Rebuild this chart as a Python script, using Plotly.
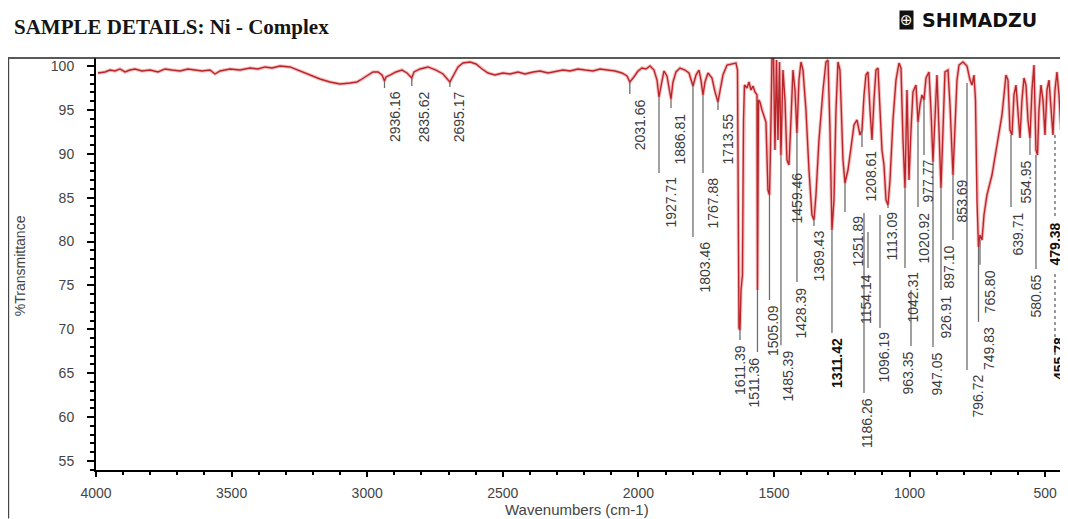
import plotly.graph_objects as go

# ---------------- spectrum ----------------
wavenumber = [3992.6, 3966.8, 3948.4, 3929.9, 3911.5, 3893.1, 3874.6, 3856.2, 3830.4, 3800.9,
              3771.4, 3745.6, 3719.8, 3690.3, 3660.8, 3634.8, 3609.1, 3579.7, 3561.2, 3542.8,
              3505.9, 3469.0, 3432.2, 3402.7, 3376.9, 3351.0, 3321.5, 3284.7, 3255.2, 3229.4,
              3203.5, 3174.0, 3137.2, 3100.3, 3063.4, 3037.6, 3019.2, 2997.1, 2978.6, 2960.2,
              2945.4, 2936.2, 2930.7, 2915.9, 2893.8, 2871.7, 2853.2, 2835.6, 2827.4, 2805.3,
              2775.8, 2746.3, 2720.5, 2695.2, 2683.6, 2665.1, 2646.7, 2620.9, 2598.8, 2576.7,
              2554.5, 2528.7, 2499.2, 2473.4, 2443.9, 2418.1, 2388.6, 2362.8, 2333.3, 2307.5,
              2278.0, 2252.2, 2222.7, 2196.9, 2167.4, 2141.6, 2112.1, 2086.3, 2060.5, 2042.0,
              2031.7, 2016.2, 2001.5, 1986.7, 1972.0, 1957.2, 1942.5, 1931.4, 1924.0, 1916.7,
              1905.6, 1894.6, 1887.2, 1879.8, 1872.4, 1861.4, 1846.6, 1828.2, 1813.4, 1798.7,
              1787.6, 1776.6, 1769.2, 1761.8, 1754.4, 1743.4, 1728.6, 1717.6, 1706.5, 1699.1,
              1688.1, 1673.3, 1654.9, 1640.2, 1634.6, 1630.9, 1629.1, 1625.4, 1621.7, 1616.2,
              1612.5, 1608.8, 1599.6, 1592.2, 1584.8, 1577.5, 1570.1, 1562.7, 1560.9, 1557.2,
              1551.7, 1544.3, 1536.9, 1529.6, 1522.2, 1516.6, 1512.9, 1507.4, 1501.9, 1496.4,
              1490.8, 1485.3, 1479.8, 1474.3, 1466.9, 1459.5, 1452.1, 1444.8, 1437.4, 1430.0,
              1422.6, 1415.3, 1407.9, 1400.5, 1393.1, 1382.1, 1371.0, 1360.0, 1352.6, 1345.2,
              1334.1, 1319.4, 1308.3, 1300.9, 1293.5, 1286.2, 1278.8, 1271.4, 1264.0, 1256.7,
              1245.6, 1238.2, 1227.2, 1216.1, 1205.0, 1194.0, 1182.9, 1175.5, 1168.1, 1160.8,
              1153.4, 1146.0, 1138.6, 1131.3, 1123.9, 1116.5, 1109.1, 1101.8, 1094.4, 1087.0,
              1079.6, 1072.2, 1061.2, 1050.1, 1039.1, 1031.7, 1024.3, 1016.9, 1009.6, 1002.2,
              994.8, 987.5, 976.4, 969.0, 961.6, 954.3, 946.9, 939.5, 928.5, 921.1,
              913.7, 906.3, 899.0, 891.6, 884.2, 876.8, 869.5, 858.4, 851.0, 840.0,
              832.6, 825.2, 817.8, 803.1, 788.3, 777.3, 769.9, 762.5, 757.0, 751.5,
              745.9, 740.4, 733.0, 725.6, 714.6, 696.2, 677.7, 659.3, 651.9, 644.6,
              637.2, 629.8, 622.4, 615.1, 607.7, 600.3, 593.0, 585.6, 578.2, 570.8,
              563.5, 556.1, 548.7, 541.3, 534.0, 528.4, 522.9, 515.5, 508.1, 500.8,
              493.4, 486.0, 478.6, 471.3, 463.9, 456.5, 449.1, 441.8, 438.1, 427.0]

transmittance = [99.20, 99.32, 99.54, 99.43, 99.66, 99.32, 99.54, 99.66, 99.43, 99.54,
                 99.32, 99.66, 99.54, 99.43, 99.66, 99.54, 99.43, 99.54, 99.09, 99.43,
                 99.66, 99.54, 99.77, 99.66, 99.89, 99.77, 100.00, 99.89, 99.54, 99.20,
                 98.86, 98.52, 98.18, 97.95, 98.06, 98.18, 98.52, 98.97, 99.32, 99.32,
                 98.97, 98.29, 98.75, 98.97, 99.32, 99.54, 99.20, 98.63, 99.32, 99.66,
                 99.89, 99.54, 99.09, 98.18, 98.86, 99.89, 100.34, 100.45, 100.23, 99.66,
                 99.20, 98.97, 99.20, 99.09, 99.32, 99.09, 99.32, 99.43, 99.20, 99.32,
                 99.54, 99.43, 99.66, 99.54, 99.43, 99.66, 99.54, 99.43, 99.20, 98.86,
                 98.18, 98.75, 99.43, 99.77, 99.66, 100.00, 99.54, 98.40, 96.47, 97.83,
                 99.43, 98.86, 97.72, 96.24, 98.18, 99.32, 99.77, 99.54, 99.20, 97.72,
                 98.97, 99.54, 98.40, 96.70, 98.18, 99.20, 98.63, 97.04, 95.90, 97.27,
                 98.97, 100.11, 100.23, 100.34, 99.54, 84.74, 70.15, 69.92, 74.48, 76.19,
                 93.85, 97.83, 97.49, 98.18, 97.27, 97.72, 97.04, 96.70, 74.48, 96.13,
                 95.90, 94.99, 94.30, 93.62, 85.87, 85.31, 90.43, 101.0, 101.14, 90.43,
                 100.68, 91.57, 100.45, 89.86, 99.54, 96.13, 89.29, 88.72, 93.85, 99.54,
                 97.27, 92.37, 98.40, 100.45, 99.54, 94.99, 88.15, 83.03, 82.46, 85.31,
                 91.57, 97.27, 100.45, 100.68, 92.71, 81.32, 84.74, 94.99, 100.45, 99.54,
                 89.29, 86.67, 88.15, 90.43, 93.28, 93.85, 92.14, 92.71, 96.70, 98.97,
                 99.32, 94.99, 91.57, 96.13, 99.54, 99.77, 94.99, 90.43, 88.72, 84.74,
                 84.17, 87.01, 93.85, 98.40, 100.34, 99.77, 91.57, 86.10, 97.27, 87.01,
                 92.71, 97.04, 97.83, 93.62, 95.56, 96.70, 96.13, 98.63, 99.32, 94.99,
                 89.06, 94.99, 98.97, 92.71, 86.10, 92.71, 99.32, 99.54, 95.56, 87.58,
                 92.71, 98.40, 100.11, 100.45, 100.00, 98.40, 97.83, 98.97, 96.13, 84.74,
                 79.38, 80.75, 80.18, 83.03, 85.31, 87.58, 91.00, 94.42, 96.70, 98.97,
                 98.40, 92.71, 92.14, 96.70, 97.83, 94.42, 91.80, 96.13, 98.63, 97.83,
                 93.85, 91.80, 97.27, 100.11, 90.43, 89.86, 94.99, 97.83, 96.13, 92.14,
                 97.27, 98.40, 94.99, 92.14, 97.27, 99.32, 96.70, 92.71, 94.42, 96.13]

# ---------------- peak labels ----------------
peak_labels = ["2936.16", "2835.62", "2695.17", "2031.66", "1927.71", "1886.81", "1803.46",
               "1767.88", "1713.55", "1611.39", "1511.36", "1505.09", "1485.39", "1459.46",
               "1428.39", "1369.43", "1311.42", "1251.89", "1208.61", "1186.26", "1154.14",
               "1113.09", "1096.19", "1042.31", "1020.92", "977.77", "963.35", "947.05",
               "926.91", "897.10", "853.69", "796.72", "765.80", "749.83", "639.71",
               "554.95", "580.65", "479.38", "455.78"]
label_x = [2936.2, 2835.6, 2695.2, 2031.7, 1924.0, 1879.8, 1798.7, 1761.8, 1706.5, 1625.4,
           1560.9, 1516.6, 1474.3, 1415.3, 1415.3, 1352.6, 1286.2, 1238.2, 1175.5, 1168.1,
           1153.4, 1079.6, 1109.1, 1016.9, 969.0, 946.9, 994.8, 913.7, 884.2, 840.0,
           814.2, 788.3, 740.4, 745.9, 626.1, 556.1, 534.0, 463.9, 440.0]
lead_from = [98.29, 98.63, 98.18, 98.18, 96.47, 96.24, 97.72, 96.70, 95.90, 69.92,
             74.48, 85.31, 89.86, None, 92.37, 82.46, 81.32, 86.67, 92.71, 83.25,
             81.09, 84.17, 83.03, 86.10, 93.62, 96.13, 74.48, 89.06, 86.10, 87.58,
             None, 98.06, 80.18, 79.38, 92.14, 91.80, 89.86, 92.14, None]
lead_to = [97.49, 97.72, 97.61, 96.81, 87.81, 95.22, 80.52, 87.81, 94.99, 68.79,
           67.42, 73.34, 68.20, None, 75.39, 81.77, 69.58, 83.37, 90.77, 62.75,
           77.00, 83.82, 70.15, 77.00, 83.94, 89.86, 68.10, 67.99, 74.48, 80.18,
           None, 65.37, 77.35, 70.85, 83.94, 89.86, 76.87, 82.69, None]
text_top = [97.38, 97.38, 97.38, 96.47, 87.58, 94.87, 80.29, 87.58, 94.87, 68.45,
            67.08, 73.00, 67.88, 88.15, 75.05, 81.55, 69.24, 83.25, 90.66, 62.41,
            76.53, 83.60, 69.92, 76.76, 83.60, 89.63, 67.65, 67.65, 74.14, 79.84,
            87.36, 65.03, 77.00, 70.50, 83.60, 89.52, 76.53, 82.46, 69.35]
text_dx = [11, 13, 10, 11, 12, 9, 12, 10, 10, 0,
           -3, 3, 8, 0, 4, 5, 5, 13, 9, 3,
           -2, 4, 4, 8, 6, 4, -3, 4, 5, -4,
           2, 11, 10, 11, 7, -3, 0, 0, -3]
bold_labels = {"1311.42", "479.38", "455.78"}
dashed_labels = {"479.38"}
dash_below = [76.3, 66.8]  # dashed continuation under 479.38

x_ticks = [4000, 3500, 3000, 2500, 2000, 1500, 1000, 500]
y_ticks = [55, 60, 65, 70, 75, 80, 85, 90, 95, 100]

LABEL_FONT = "Liberation Sans, Arial, sans-serif"

fig = go.Figure()

# soft halo + main red line
fig.add_trace(go.Scatter(x=wavenumber, y=transmittance, mode="lines",
                         line=dict(color="rgba(230,70,70,0.35)", width=3.5),
                         hoverinfo="skip", showlegend=False))
fig.add_trace(go.Scatter(x=wavenumber, y=transmittance, mode="lines",
                         line=dict(color="#b8262b", width=1.4),
                         showlegend=False))

# leader lines
lx, ly, dx_, dy_ = [], [], [], []
for lab, x, a, b in zip(peak_labels, label_x, lead_from, lead_to):
    if a is None:
        continue
    if lab in dashed_labels:
        dx_ += [x, x, None, x, x, None]
        dy_ += [a, b, None, dash_below[0], dash_below[1], None]
    else:
        lx += [x, x, None]
        ly += [a, b, None]
fig.add_trace(go.Scatter(x=lx, y=ly, mode="lines", line=dict(color="#6e6e6e", width=1.3),
                         hoverinfo="skip", showlegend=False))
fig.add_trace(go.Scatter(x=dx_, y=dy_, mode="lines",
                         line=dict(color="#555555", width=1.2, dash="dot"),
                         hoverinfo="skip", showlegend=False))

annotations = []
for lab, x, t, dx in zip(peak_labels, label_x, text_top, text_dx):
    bold = lab in bold_labels
    annotations.append(dict(
        x=x, y=t, xref="x", yref="y", text=f"<b>{lab}</b>" if bold else lab,
        textangle=-90, showarrow=False, xanchor="center", yanchor="top",
        xshift=dx, font=dict(family=LABEL_FONT, size=14,
                             color="#111111" if bold else "#3c3c3c")))

# titles and header
annotations += [
    dict(text="%Transmittance", textangle=-90, xref="paper", yref="paper",
         x=-0.0787, y=0.497, showarrow=False, xanchor="center", yanchor="middle",
         font=dict(family=LABEL_FONT, size=14, color="#444444")),
    dict(text="Wavenumbers (cm-1)", xref="paper", yref="paper", x=0.498, y=-0.097,
         showarrow=False, xanchor="center", yanchor="middle",
         font=dict(family=LABEL_FONT, size=15, color="#444444")),
    dict(text="<b>SAMPLE DETAILS: Ni - Complex</b>", xref="paper", yref="paper",
         x=-0.087, y=1.075, showarrow=False, xanchor="left", yanchor="middle",
         font=dict(family="Liberation Serif, Times New Roman, serif", size=21, color="#151515")),
    dict(text="<b>SHIMADZU</b>", xref="paper", yref="paper", x=0.853, y=1.092,
         showarrow=False, xanchor="left", yanchor="middle",
         font=dict(family="DejaVu Sans, sans-serif", size=19, color="#111111")),
    dict(text="⊕", xref="paper", yref="paper", x=0.839, y=1.092, showarrow=False,
         xanchor="center", yanchor="middle", bgcolor="#111111", borderpad=0,
         font=dict(family="DejaVu Sans, sans-serif", size=15, color="white")),
]

shapes = [
    # outer frame: top and left lines
    dict(type="line", xref="paper", yref="paper", x0=-0.0911, x1=1.0, y0=1.0, y1=1.0,
         line=dict(color="#222222", width=1.5)),
    dict(type="line", xref="paper", yref="paper", x0=-0.0905, x1=-0.0905, y0=1.0, y1=-0.118,
         line=dict(color="#444444", width=1.2)),
]

# page has an 8px body margin, so the figure is 8px smaller and margins shifted
fig.update_layout(
    width=1060, height=511,
    margin=dict(l=88, r=6, t=50, b=49),
    paper_bgcolor="white", plot_bgcolor="white",
    annotations=annotations, shapes=shapes,
    xaxis=dict(range=[4000, 438], tickvals=x_ticks, ticks="outside", ticklen=5,
               tickwidth=1.5, tickcolor="black", showline=True, linecolor="black",
               linewidth=2, showgrid=False, zeroline=False, ticklabelstandoff=4,
               tickfont=dict(family=LABEL_FONT, size=14, color="#444444"),
               minor=dict(dtick=100, ticks="outside", ticklen=3, tickcolor="black",
                          showgrid=False)),
    yaxis=dict(range=[53.98, 100.91], tickvals=y_ticks, ticks="outside", ticklen=7,
               tickwidth=1.5, tickcolor="black", showline=True, linecolor="black",
               linewidth=2, showgrid=False, zeroline=False, ticklabelstandoff=10,
               tickfont=dict(family=LABEL_FONT, size=14, color="#444444"),
               minor=dict(dtick=1, ticks="outside", ticklen=4, tickcolor="black",
                          showgrid=False)),
)

fig.write_html("out.html")
